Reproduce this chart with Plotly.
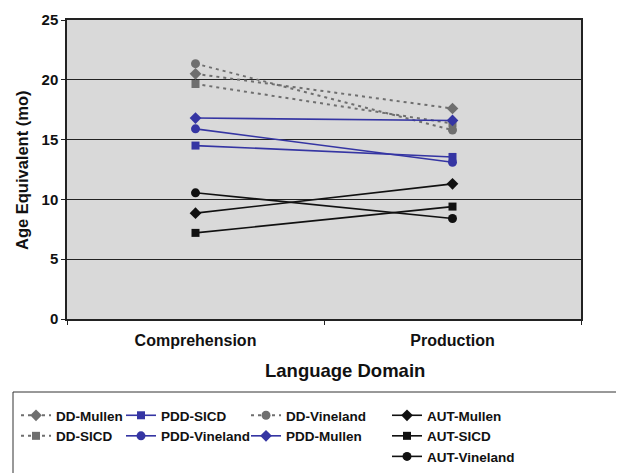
import plotly.graph_objects as go

categories = ["Comprehension", "Production"]

dd_mullen = [20.5, 17.6]
dd_sicd = [19.65, 16.35]
dd_vineland = [21.35, 15.8]
pdd_sicd = [14.5, 13.55]
pdd_vineland = [15.9, 13.1]
pdd_mullen = [16.8, 16.6]
aut_mullen = [8.85, 11.3]
aut_sicd = [7.2, 9.4]
aut_vineland = [10.55, 8.4]

y_ticks = [0, 5, 10, 15, 20, 25]

GRAY = "#6f6f6f"
BLUE = "#3535a3"
BLACK = "#111111"
FONT = "Liberation Sans"

series = [
    ("DD-Mullen", dd_mullen, GRAY, "dot", "diamond", "legend"),
    ("DD-SICD", dd_sicd, GRAY, "dot", "square", "legend"),
    ("PDD-SICD", pdd_sicd, BLUE, "solid", "square", "legend2"),
    ("PDD-Vineland", pdd_vineland, BLUE, "solid", "circle", "legend2"),
    ("DD-Vineland", dd_vineland, GRAY, "dot", "circle", "legend3"),
    ("PDD-Mullen", pdd_mullen, BLUE, "solid", "diamond", "legend3"),
    ("AUT-Mullen", aut_mullen, BLACK, "solid", "diamond", "legend4"),
    ("AUT-SICD", aut_sicd, BLACK, "solid", "square", "legend4"),
    ("AUT-Vineland", aut_vineland, BLACK, "solid", "circle", "legend4"),
]

fig = go.Figure()
for name, vals, col, dash, sym, leg in series:
    fig.add_trace(go.Scatter(
        x=categories, y=vals, name=name, mode="lines+markers",
        line=dict(color=col, width=1.6 if dash == "solid" else 2, dash="3px,4px" if dash == "dot" else "solid"),
        marker=dict(symbol=sym, size=9 if sym != "square" else 8, color=col),
        legend=leg,
    ))

legfont = dict(family=FONT, size=13.5, color="#111111", weight="bold")
leg_common = dict(xref="container", yref="container", xanchor="left", yanchor="top",
                  bgcolor="rgba(0,0,0,0)", borderwidth=0, font=legfont, itemwidth=30,
                  tracegroupgap=0, orientation="v")
y_leg = 1 - 392 / 473

fig.update_layout(
    width=624, height=473,
    margin=dict(l=59, r=51, t=12, b=162, autoexpand=False),
    paper_bgcolor="white",
    plot_bgcolor="#d9d9d9",
    font=dict(family=FONT, color="#111111"),
    showlegend=True,
    legend=dict(x=8 / 624, y=y_leg, **leg_common),
    legend2=dict(x=113 / 624, y=y_leg, **leg_common),
    legend3=dict(x=238 / 624, y=y_leg, **leg_common),
    legend4=dict(x=379 / 624, y=y_leg, **leg_common),
    xaxis=dict(
        type="category", range=[-0.5, 1.5],
        showgrid=False, showline=True, linecolor="#222222", linewidth=1.5, mirror=True,
        ticks="outside", tickson="boundaries", ticklen=4, tickcolor="#222222",
        ticklabelstandoff=6,
        tickfont=dict(family=FONT, size=16, color="#111111", weight="bold"),
        automargin=False,
    ),
    yaxis=dict(
        range=[0, 25], tickvals=y_ticks,
        showgrid=True, gridcolor="#222222", gridwidth=1,
        showline=True, linecolor="#222222", linewidth=1.5, mirror=True,
        ticks="outside", ticklen=4, tickcolor="#222222",
        tickfont=dict(family=FONT, size=15, color="#111111", weight="bold"),
        zeroline=False, automargin=False,
    ),
    annotations=[
        dict(text="<b>Age Equivalent (mo)</b>", xref="paper", yref="paper",
             x=(22 - 67) / 514, y=(319 - 170) / 299, textangle=-90, showarrow=False,
             xanchor="center", yanchor="middle",
             font=dict(family=FONT, size=16.5, color="#111111")),
        dict(text="<b>Language Domain</b>", xref="paper", yref="paper",
             x=(345 - 67) / 514, y=(319 - 371) / 299, showarrow=False,
             xanchor="center", yanchor="middle",
             font=dict(family=FONT, size=18.5, color="#111111")),
    ],
    shapes=[dict(
        type="rect", xref="paper", yref="paper",
        x0=(13 - 67) / 514, x1=(640 - 67) / 514,
        y0=(319 - 490) / 299, y1=(319 - 392) / 299,
        line=dict(color="#333333", width=1), fillcolor="rgba(0,0,0,0)",
    )],
)

fig.write_html("out.html")
